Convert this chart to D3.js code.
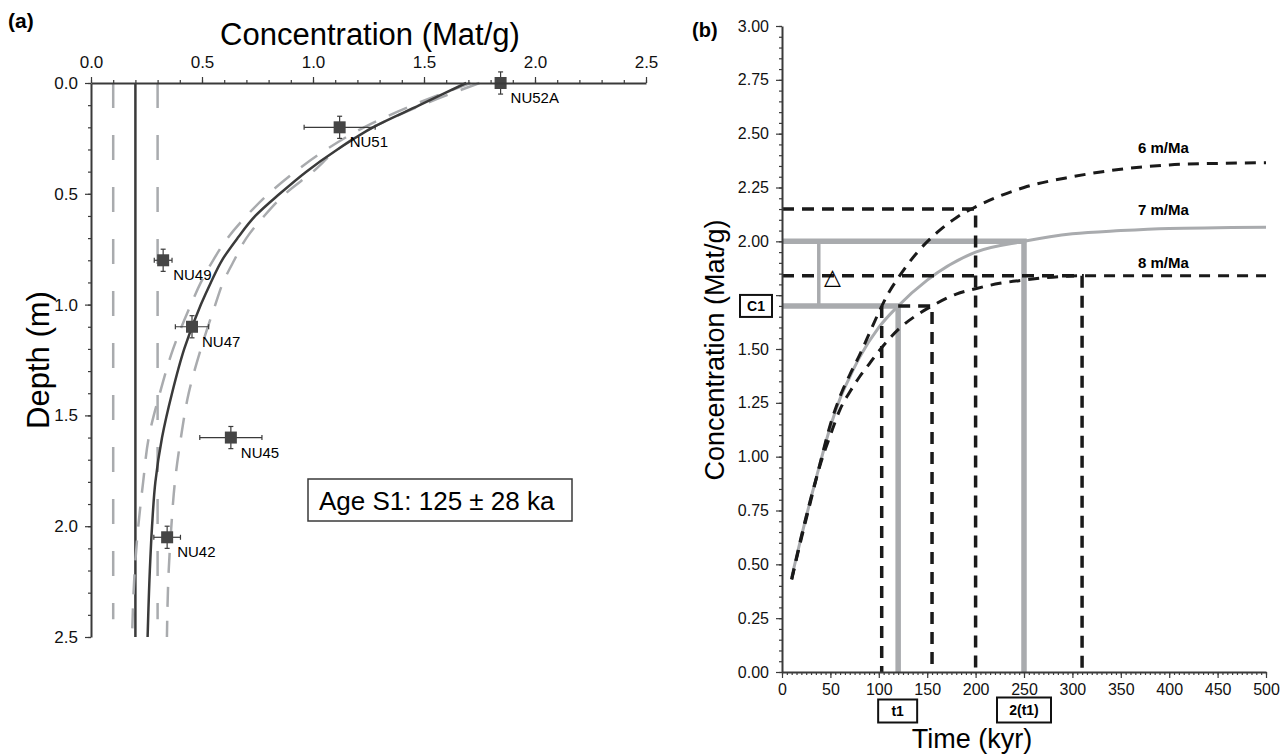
<!DOCTYPE html>
<html>
<head>
<meta charset="utf-8">
<script src="https://cdn.jsdelivr.net/npm/d3@7"></script>
<style>
  body { margin: 0; background: #fff; }
  svg { font-family: "Liberation Sans", Arial, sans-serif; }
</style>
</head>
<body>
<svg id="chart" width="1282" height="754"></svg>
<script>
// ---- panel (a): depth profile ----
const depthGrid = [0, 0.1, 0.2, 0.3, 0.4, 0.5, 0.6, 0.7, 0.8, 0.9, 1.0, 1.2, 1.4, 1.6, 1.8, 2.0, 2.2, 2.5];
const concBest  = [1.69, 1.48, 1.27, 1.11, 0.97, 0.85, 0.74, 0.66, 0.59, 0.54, 0.495, 0.42, 0.365, 0.32, 0.29, 0.275, 0.265, 0.255];
const concUpper = [1.75, 1.49, 1.27, 1.11, 1.00, 0.875, 0.78, 0.70, 0.645, 0.595, 0.56, 0.495, 0.44, 0.405, 0.378, 0.362, 0.35, 0.342];
const concLower = [1.71, 1.45, 1.23, 1.06, 0.92, 0.80, 0.70, 0.615, 0.55, 0.495, 0.45, 0.37, 0.31, 0.26, 0.235, 0.213, 0.197, 0.185];

const inherited = 0.2;
const inheritedRange = [0.1, 0.3];

const sampleNames = ["NU52A", "NU51", "NU49", "NU47", "NU45", "NU42"];
const sampleConc  = [1.845, 1.12, 0.325, 0.455, 0.63, 0.343];
const sampleDepth = [0.0, 0.2, 0.80, 1.10, 1.60, 2.05];
const sampleConcErr  = [0.0, 0.16, 0.04, 0.075, 0.14, 0.06];
const sampleDepthErr = [0.05, 0.05, 0.05, 0.05, 0.05, 0.05];

const xTicksA = [0, 0.5, 1.0, 1.5, 2.0, 2.5];
const yTicksA = [0, 0.5, 1.0, 1.5, 2.0, 2.5];
const ageText = "Age S1: 125 \u00b1 28 ka";

// ---- panel (b): concentration vs time ----
const time6 = [10, 20, 30, 40, 50, 60, 70, 80, 90, 100, 110, 120, 140, 160, 180, 200, 250, 300, 350, 400, 450, 500];
const conc6 = [0.43, 0.62, 0.80, 0.98, 1.15, 1.28, 1.38, 1.47, 1.57, 1.67, 1.76, 1.83, 1.95, 2.04, 2.11, 2.16, 2.25, 2.30, 2.335, 2.355, 2.362, 2.365];
const time7 = [10, 20, 30, 40, 50, 60, 70, 80, 100, 120, 150, 200, 250, 300, 350, 400, 450, 500];
const conc7 = [0.44, 0.63, 0.81, 0.98, 1.14, 1.27, 1.37, 1.46, 1.60, 1.70, 1.82, 1.95, 2.00, 2.035, 2.05, 2.06, 2.063, 2.065];
const time8 = [10, 20, 30, 40, 50, 60, 70, 80, 90, 100, 120, 140, 155, 180, 200, 225, 250, 270, 310, 400, 500];
const conc8 = [0.43, 0.63, 0.81, 0.97, 1.10, 1.22, 1.30, 1.37, 1.43, 1.49, 1.59, 1.66, 1.70, 1.755, 1.78, 1.805, 1.82, 1.83, 1.84, 1.84, 1.84];
const rateLabels = ["6 m/Ma", "7 m/Ma", "8 m/Ma"];

const c1 = 1.70, t1 = 120;          // C1 reached by 7 m/Ma
const c2 = 2.00, t2 = 250;          // 2(t1)
const c6 = 2.15, t6 = 200;          // 6 m/Ma at 2(t1)
const c8 = 1.84, t8 = 310;          // 8 m/Ma at 2(t1)
const t6c1 = 103, t8c1 = 155;       // C1 reached by 6 and 8 m/Ma
const deltaT = 38;

const xTicksB = d3.range(0, 501, 50);
const yTicksB = d3.range(0, 3.001, 0.25);

const svg = d3.select("#chart");
const dark = "#3a3a3a", gray = "#a9abae";

// ================= panel (a) =================
const xA = d3.scaleLinear().domain([0, 2.5]).range([91, 646]);
const yA = d3.scaleLinear().domain([0, 2.5]).range([83, 637]);
const gA = svg.append("g");

gA.append("line")
    .attr("x1", xA(inherited)).attr("x2", xA(inherited))
    .attr("y1", yA(0)).attr("y2", yA(2.5))
    .attr("stroke", dark).attr("stroke-width", 2.5);

gA.selectAll(".inh")
    .data(inheritedRange)
    .join("line")
    .attr("x1", d => xA(d)).attr("x2", d => xA(d))
    .attr("y1", yA(0)).attr("y2", yA(2.42))
    .attr("stroke", gray).attr("stroke-width", 2.5)
    .attr("stroke-dasharray", "25,27");

const profile = vals => d3.line()
    .x((d, i) => xA(vals[i]))
    .y(d => yA(d))
    .curve(d3.curveMonotoneY)(depthGrid);

gA.append("path").attr("d", profile(concUpper))
    .attr("fill", "none").attr("stroke", gray).attr("stroke-width", 2.5)
    .attr("stroke-dasharray", "20,14");
gA.append("path").attr("d", profile(concLower))
    .attr("fill", "none").attr("stroke", gray).attr("stroke-width", 2.5)
    .attr("stroke-dasharray", "20,14");
gA.append("path").attr("d", profile(concBest))
    .attr("fill", "none").attr("stroke", dark).attr("stroke-width", 2.5);

// samples with error bars
const samples = sampleNames.map((n, i) => ({
    name: n, c: sampleConc[i], z: sampleDepth[i],
    ce: sampleConcErr[i], ze: sampleDepthErr[i]
}));
const sg = gA.selectAll(".sample").data(samples).join("g");
sg.filter(d => d.ce > 0).append("line")
    .attr("x1", d => xA(d.c - d.ce)).attr("x2", d => xA(d.c + d.ce))
    .attr("y1", d => yA(d.z)).attr("y2", d => yA(d.z))
    .attr("stroke", dark).attr("stroke-width", 1.2);
sg.filter(d => d.ce > 0).selectAll(".hcap")
    .data(d => [[d.c - d.ce, d.z], [d.c + d.ce, d.z]])
    .join("line")
    .attr("x1", d => xA(d[0])).attr("x2", d => xA(d[0]))
    .attr("y1", d => yA(d[1]) - 2.5).attr("y2", d => yA(d[1]) + 2.5)
    .attr("stroke", dark).attr("stroke-width", 1.2);
sg.append("line")
    .attr("x1", d => xA(d.c)).attr("x2", d => xA(d.c))
    .attr("y1", d => yA(d.z - d.ze)).attr("y2", d => yA(d.z + d.ze))
    .attr("stroke", dark).attr("stroke-width", 1.2);
sg.selectAll(".vcap")
    .data(d => [[d.c, d.z - d.ze], [d.c, d.z + d.ze]])
    .join("line")
    .attr("x1", d => xA(d[0]) - 2.5).attr("x2", d => xA(d[0]) + 2.5)
    .attr("y1", d => yA(d[1])).attr("y2", d => yA(d[1]))
    .attr("stroke", dark).attr("stroke-width", 1.2);
sg.append("rect")
    .attr("x", d => xA(d.c) - 6).attr("y", d => yA(d.z) - 6)
    .attr("width", 12).attr("height", 12)
    .attr("fill", "#454545");
sg.append("text")
    .attr("x", d => xA(d.c) + 10).attr("y", d => yA(d.z) + 20)
    .style("font-size", "15px")
    .text(d => d.name);

// axes (a)
const styleAxis = (g, fs) => {
    g.select(".domain").attr("stroke", dark).attr("stroke-width", 2);
    g.selectAll(".tick line").attr("stroke", dark).attr("stroke-width", 1.2);
    g.selectAll("text").style("font-size", fs).style("font-family", "Liberation Sans, Arial, sans-serif").attr("fill", "#111");
};
gA.append("g").attr("transform", `translate(0,${yA(0)})`)
    .call(d3.axisTop(xA).tickValues(d3.range(0, 2.501, 0.1)).tickSize(3).tickFormat(""))
    .call(g => { g.select(".domain").remove(); g.selectAll("line").attr("stroke", dark).attr("stroke-width", 1.2); });
gA.append("g").attr("transform", `translate(${xA(0)},0)`)
    .call(d3.axisLeft(yA).tickValues(d3.range(0, 2.501, 0.1)).tickSize(3).tickFormat(""))
    .call(g => { g.select(".domain").remove(); g.selectAll("line").attr("stroke", dark).attr("stroke-width", 1.2); });
gA.append("g").attr("transform", `translate(0,${yA(0)})`)
    .call(d3.axisTop(xA).tickValues(xTicksA).tickSize(6).tickSizeOuter(0).tickPadding(9).tickFormat(d3.format(".1f")))
    .call(g => styleAxis(g, "17px"));
gA.append("g").attr("transform", `translate(${xA(0)},0)`)
    .call(d3.axisLeft(yA).tickValues(yTicksA).tickSize(6).tickSizeOuter(0).tickPadding(7).tickFormat(d3.format(".1f")))
    .call(g => styleAxis(g, "17px"));

gA.append("text").attr("x", 370).attr("y", 45).attr("text-anchor", "middle")
    .style("font-size", "31px").text("Concentration (Mat/g)");
gA.append("text").attr("transform", "translate(49,360) rotate(-90)").attr("text-anchor", "middle")
    .style("font-size", "31px").text("Depth (m)");
gA.append("text").attr("x", 8).attr("y", 28).style("font-size", "21px").style("font-weight", "bold").text("(a)");

gA.append("rect").attr("x", 308).attr("y", 479).attr("width", 264).attr("height", 42)
    .attr("fill", "#fff").attr("stroke", dark).attr("stroke-width", 1.5);
gA.append("text").attr("x", 319).attr("y", 510).style("font-size", "26px").text(ageText);

// ================= panel (b) =================
const xB = d3.scaleLinear().domain([0, 500]).range([782, 1266]);
const yB = d3.scaleLinear().domain([0, 3]).range([672, 26]);
const gB = svg.append("g");

const lineB = d3.line().x(d => xB(d[0])).y(d => yB(d[1]));
const curveB = (ts, cs) => d3.line().x((d, i) => xB(d)).y((d, i) => yB(cs[i])).curve(d3.curveMonotoneX)(ts);

// gray reference lines (7 m/Ma)
gB.append("path").attr("d", lineB([[0, c2], [t2, c2], [t2, 0]]))
    .attr("fill", "none").attr("stroke", gray).attr("stroke-width", 5.5);
gB.append("path").attr("d", lineB([[0, c1], [t1, c1], [t1, 0]]))
    .attr("fill", "none").attr("stroke", gray).attr("stroke-width", 5.5);
gB.append("path").attr("d", lineB([[deltaT, c2], [deltaT, c1]]))
    .attr("fill", "none").attr("stroke", gray).attr("stroke-width", 3.5);

gB.append("path").attr("d", curveB(time7, conc7))
    .attr("fill", "none").attr("stroke", gray).attr("stroke-width", 3);

// dashed black reference lines
const dashedPaths = [
    [[0, c6], [t6, c6], [t6, 0]],
    [[0, c8], [t8, c8], [t8, 0]],
    [[t1, c1], [t8c1, c1], [t8c1, 0]],
    [[t6c1, c1], [t6c1, 0]]
];
gB.selectAll(".dref").data(dashedPaths).join("path")
    .attr("d", d => lineB(d))
    .attr("fill", "none").attr("stroke", "#1a1a1a").attr("stroke-width", 3.5)
    .attr("stroke-dasharray", "12,8");

gB.append("path").attr("d", curveB(time6, conc6))
    .attr("fill", "none").attr("stroke", "#1a1a1a").attr("stroke-width", 3)
    .attr("stroke-dasharray", "11,8");
gB.append("path").attr("d", curveB(time8, conc8))
    .attr("fill", "none").attr("stroke", "#1a1a1a").attr("stroke-width", 3)
    .attr("stroke-dasharray", "11,8");

// curve labels
gB.selectAll(".rate").data(rateLabels).join("text")
    .attr("x", 1138)
    .attr("y", (d, i) => [153, 215, 268][i])
    .style("font-size", "15px").style("font-weight", "bold")
    .text(d => d);

gB.append("text").attr("x", xB(deltaT + 14)).attr("y", yB(c8) + 8).attr("text-anchor", "middle")
    .style("font-family", "DejaVu Sans").style("font-size", "22px").text("\u25b3");

// axes (b)
gB.append("g").attr("transform", `translate(${xB(0)},0)`)
    .call(d3.axisLeft(yB).tickValues(d3.range(0, 3.001, 0.05)).tickSize(3).tickFormat(""))
    .call(g => { g.select(".domain").remove(); g.selectAll("line").attr("stroke", dark).attr("stroke-width", 1.2); });
gB.append("g").attr("transform", `translate(0,${yB(0)})`)
    .call(d3.axisBottom(xB).tickValues(d3.range(0, 501, 5)).tickSize(3).tickFormat(""))
    .call(g => { g.select(".domain").remove(); g.selectAll("line").attr("stroke", dark).attr("stroke-width", 1.2); });
// the 1.75 label sits under the C1 box in the original, so it is left blank
const fmtB = d3.format(".2f");
gB.append("g").attr("transform", `translate(${xB(0)},0)`)
    .call(d3.axisLeft(yB).tickValues(yTicksB).tickSize(6).tickSizeOuter(0).tickPadding(7)
        .tickFormat(d => Math.abs(d - 1.75) < 1e-6 ? "" : fmtB(d)))
    .call(g => styleAxis(g, "16px"));
gB.append("g").attr("transform", `translate(0,${yB(0)})`)
    .call(d3.axisBottom(xB).tickValues(xTicksB).tickSize(6).tickSizeOuter(0).tickPadding(6).tickFormat(d3.format("d")))
    .call(g => styleAxis(g, "16px"));

// boxed labels
const boxLabel = (cx, cy, w, h, txt) => {
    gB.append("rect").attr("x", cx - w / 2).attr("y", cy - h / 2).attr("width", w).attr("height", h)
        .attr("fill", "#fff").attr("stroke", "#111").attr("stroke-width", 2);
    gB.append("text").attr("x", cx).attr("y", cy + 5).attr("text-anchor", "middle")
        .style("font-size", "14px").style("font-weight", "bold").text(txt);
};
boxLabel(756, yB(c1), 32, 22, "C1");
boxLabel(xB(t1) - 0.5, 711, 39, 23, "t1");
boxLabel(xB(t2), 710, 54, 25, "2(t1)");

gB.append("text").attr("x", 972).attr("y", 748).attr("text-anchor", "middle")
    .style("font-size", "27px").text("Time (kyr)");
gB.append("text").attr("transform", "translate(724,350) rotate(-90)").attr("text-anchor", "middle")
    .style("font-size", "27px").text("Concentration (Mat/g)");
gB.append("text").attr("x", 692).attr("y", 37).style("font-size", "20px").style("font-weight", "bold").text("(b)");
</script>
</body>
</html>
